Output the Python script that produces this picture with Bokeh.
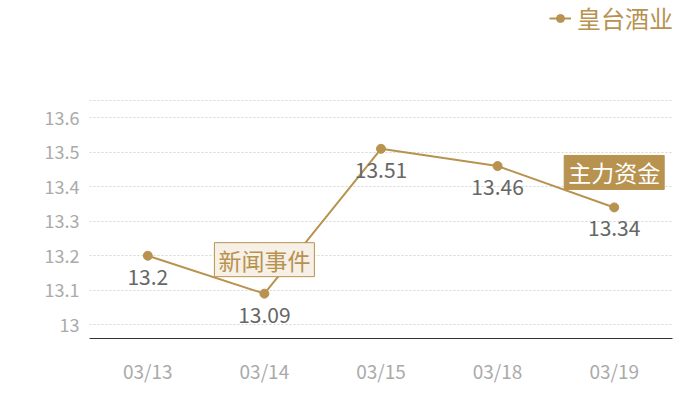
from bokeh.plotting import figure
from bokeh.models import ColumnDataSource, Label, Span, Legend, LegendItem, FixedTicker
from bokeh.core.properties import value
from bokeh.embed import file_html
from bokeh.resources import INLINE

dates = ["03/13", "03/14", "03/15", "03/18", "03/19"]
prices = [13.2, 13.09, 13.51, 13.46, 13.34]
labels = ["13.2", "13.09", "13.51", "13.46", "13.34"]
y_ticks = [13.0, 13.1, 13.2, 13.3, 13.4, 13.5, 13.6]
series_name = "皇台酒业"
news_event = ("03/14", "新闻事件")
fund_event = ("03/19", "主力资金")

FONT = "Noto Sans CJK SC"
GOLD = "#b8924f"

Y_MIN, Y_GRID_TOP = 12.96, 13.65
# extra headroom above the grid so the legend sits inside the frame
Y_MAX = Y_GRID_TOP + 0.29

p = figure(width=684, height=392, x_range=dates, y_range=(Y_MIN, Y_MAX),
           output_backend="svg", toolbar_location=None,
           min_border_left=89, min_border_right=12, min_border_top=0, min_border_bottom=54)
p.outline_line_color = None
p.background_fill_color = "white"

src = ColumnDataSource(dict(x=dates, y=prices, t=labels))
ln = p.line("x", "y", source=src, line_color=GOLD, line_width=2)
sc = p.scatter("x", "y", source=src, size=9, fill_color=GOLD, line_color=GOLD)
p.text("x", "y", text="t", source=src, text_font=value(FONT), text_font_size="21px",
       text_color="#666666", text_align="center", text_baseline="middle", y_offset=21)

# axes
p.yaxis.ticker = FixedTicker(ticks=y_ticks)
p.yaxis.major_label_overrides = {v: ("13" if v == 13.0 else f"{v:g}") for v in y_ticks}
for ax in (p.xaxis[0], p.yaxis[0]):
    ax.major_tick_line_color = None
    ax.minor_tick_line_color = None
    ax.major_label_text_font = FONT
    ax.major_label_text_color = "#aaaaaa"
p.xaxis.major_label_text_font_size = "19px"
p.yaxis.major_label_text_font_size = "18px"
p.yaxis.axis_line_color = None
p.yaxis.major_label_standoff = 4
p.xaxis.axis_line_color = "#333333"
p.xaxis.axis_line_width = 1
p.xaxis.major_label_standoff = 12
p.xgrid.grid_line_color = None
p.ygrid.grid_line_color = "#d5d5d5"
p.ygrid.grid_line_dash = "2 2"
p.add_layout(Span(location=Y_GRID_TOP, dimension="width", line_color="#d5d5d5", line_dash="2 2", line_width=1))

# annotations
def idx(d):
    return dates.index(d) + 0.5

p.add_layout(Label(x=idx(news_event[0]), y=prices[dates.index(news_event[0])], y_offset=34,
                   text=news_event[1], text_font=FONT, text_font_size="23px", text_color=GOLD,
                   text_align="center", text_baseline="middle",
                   background_fill_color="#f6f0e7", border_line_color=GOLD, border_line_width=1,
                   padding=(4, 0)))
p.add_layout(Label(x=idx(fund_event[0]), y=prices[dates.index(fund_event[0])], y_offset=35,
                   text=fund_event[1], text_font=FONT, text_font_size="23px", text_color="white",
                   text_align="center", text_baseline="middle",
                   background_fill_color=GOLD, border_line_color=GOLD, border_line_width=1,
                   padding=(4, 0)))

legend = Legend(items=[LegendItem(label=series_name, renderers=[ln, sc])],
                location=(460, 303), orientation="horizontal",
                label_text_font=FONT, label_text_font_size="24px", label_text_color=GOLD,
                background_fill_alpha=0, border_line_color=None, padding=0, margin=0,
                glyph_width=22, label_standoff=6)
p.add_layout(legend, "center")

open("out.html", "w").write(file_html(p, INLINE))
